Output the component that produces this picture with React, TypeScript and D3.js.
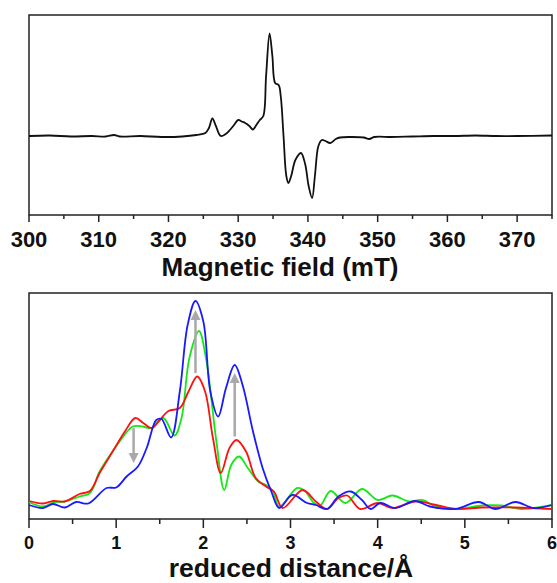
import React from 'react'
import * as d3 from 'd3'

// EPR spectrum: field (mT), intensity (arb. units)
const eprField = [300, 303, 306, 309, 311, 312.2, 313, 316, 319, 322, 324, 325.3, 325.8, 326.3, 326.8, 327.5, 328.2, 328.8, 329.4, 330.0, 330.5, 331.0, 331.6, 332.1, 332.6, 333.1, 333.6, 334.0, 334.5, 334.9, 335.3, 335.8, 336.1, 336.5, 336.9, 337.2, 337.6, 338.2, 339.0, 339.6, 340.1, 340.6, 341.0, 341.5, 342.0, 342.5, 343.2, 344.0, 344.6, 346, 348, 348.8, 349.5, 352, 355, 358, 361, 364, 367, 370, 375]
const eprSignal = [0, 0.5, -0.5, 0, -0.5, 1, -0.5, 0, -1, -0.5, 1, 3, 8, 17.5, 10, 0, 2, 6, 11, 16, 14.5, 13, 10, 6.5, 11, 16, 20, 60, 102.5, 80, 53, 51, 40, 0, -40, -47, -40, -24, -17, -28, -50, -62, -40, -10, -4, -5, -7, -3, -1.5, -1, -1.5, -3, -1, -1, -0.5, 0, 0, 0.5, 0, 0, 0.5]

// radial distribution curves
const blueR = [0, 0.16, 0.275, 0.41, 0.54, 0.68, 0.89, 1.0, 1.12, 1.25, 1.35, 1.46, 1.52, 1.63, 1.73, 1.82, 1.91, 2.0, 2.08, 2.17, 2.26, 2.36, 2.45, 2.57, 2.68, 2.78, 2.87, 3.02, 3.19, 3.29, 3.42, 3.55, 3.69, 3.82, 3.92, 4.03, 4.2, 4.43, 4.6, 4.89, 5.16, 5.35, 5.58, 5.79, 6.0]
const blueV = [14, 11, 15, 11.5, 17, 15.5, 31, 31.5, 42.5, 52.5, 71, 99, 100, 81.5, 127.5, 194, 218, 197.5, 127.5, 102.5, 131, 154, 134, 87.5, 51, 27.5, 11, 24, 16, 14, 10, 22.5, 27.5, 19, 10, 16, 11, 18, 12.5, 10, 17, 10, 17, 11, 14]

const greenR = [0, 0.16, 0.3, 0.41, 0.58, 0.7, 0.81, 0.93, 1.04, 1.19, 1.3, 1.4, 1.54, 1.67, 1.75, 1.84, 1.95, 2.03, 2.15, 2.24, 2.32, 2.41, 2.51, 2.63, 2.72, 2.8, 2.87, 3.08, 3.17, 3.27, 3.34, 3.46, 3.63, 3.82, 4.0, 4.17, 4.36, 4.51, 4.67, 4.9, 5.2, 5.42, 5.65, 6.0]
const greenV = [17, 12.5, 17, 17.5, 22.5, 26, 47.5, 64, 77.5, 92.5, 92.5, 91, 101, 83.5, 101, 161, 188, 161, 77.5, 29, 54, 62.5, 51, 37.5, 34, 27.5, 12.5, 31, 27.5, 16, 13.5, 28, 16, 30, 19, 23.5, 17.5, 19, 12.5, 10, 13.5, 13.5, 10, 14]

const redR = [0, 0.16, 0.28, 0.41, 0.58, 0.7, 0.81, 0.96, 1.1, 1.22, 1.31, 1.41, 1.5, 1.6, 1.73, 1.83, 1.93, 2.02, 2.11, 2.2, 2.3, 2.38, 2.49, 2.6, 2.72, 2.81, 2.91, 3.14, 3.29, 3.42, 3.55, 3.65, 3.8, 4.0, 4.17, 4.43, 4.67, 4.9, 5.2, 5.58, 6.0]
const redV = [18, 15.5, 18, 17.5, 25, 28, 46, 67.5, 87.5, 101, 96, 91, 99, 108, 111, 127.5, 142.5, 127.5, 81, 46, 71, 79, 67.5, 41, 32.5, 27.5, 11, 29, 17.5, 10, 21, 23.5, 10, 16, 11, 17.5, 14, 10, 11.5, 11.5, 10]

// gray arrows: position, start value, tip value
const arrowR = [1.2, 1.91, 2.36]
const arrowFrom = [91, 146, 82.5]
const arrowTo = [56, 209, 146]

const fieldTicks = [300, 310, 320, 330, 340, 350, 360, 370]
const distTicks = [0, 1, 2, 3, 4, 5, 6]

const font = '"Liberation Sans", Arial, sans-serif'

export default function App() {
  const left = 29, right = 552
  // top panel
  const xTop = d3.scaleLinear().domain([300, 375]).range([left, right])
  const yTop = d3.scaleLinear().domain([-79, 121]).range([215, 15])
  const eprLine = d3.line<number>()
    .x((d, i) => xTop(eprField[i]))
    .y(d => yTop(d))
    .curve(d3.curveCatmullRom.alpha(0.5))

  // bottom panel
  const xBot = d3.scaleLinear().domain([0, 6]).range([left, right])
  const yBot = d3.scaleLinear().domain([0, 226]).range([519, 293])
  const mk = (rs: number[]) => d3.line<number>()
    .x((d, i) => xBot(rs[i]))
    .y(d => yBot(d))
    .curve(d3.curveCatmullRom.alpha(0.5))

  const series = [
    { r: greenR, v: greenV, color: '#17e617' },
    { r: redR, v: redV, color: '#ff1010' },
    { r: blueR, v: blueV, color: '#1a1aff' },
  ]

  const minorTop = d3.range(300, 376, 5)
  const minorBot = d3.range(0, 6.01, 0.5)

  return (
    <svg width={557} height={583} style={{ position: 'absolute', left: 0, top: 0, background: '#fff' }}>
      {/* top panel */}
      <rect x={left} y={15} width={right - left} height={200} fill="none" stroke="#222" strokeWidth={1.5} />
      {minorTop.map(t => (
        <line key={t} x1={xTop(t)} x2={xTop(t)} y1={215} y2={t % 10 === 0 ? 222 : 219} stroke="#222" strokeWidth={1.5} />
      ))}
      {fieldTicks.map(t => (
        <text key={t} x={xTop(t)} y={247} textAnchor="middle" fontFamily={font} fontWeight="bold" fontSize={22} fill="#111">{t}</text>
      ))}
      <text x={280} y={276} textAnchor="middle" fontFamily={font} fontWeight="bold" fontSize={26} fill="#111">Magnetic field (mT)</text>
      <path d={eprLine(eprSignal) ?? ''} fill="none" stroke="#111" strokeWidth={1.8} strokeLinejoin="round" />

      {/* bottom panel */}
      <rect x={left} y={293} width={right - left} height={226} fill="none" stroke="#222" strokeWidth={1.5} />
      {minorBot.map(t => (
        <line key={t} x1={xBot(t)} x2={xBot(t)} y1={519} y2={Math.abs(t % 1) < 0.01 ? 528 : 524} stroke="#222" strokeWidth={1.5} />
      ))}
      {distTicks.map(t => (
        <text key={t} x={xBot(t)} y={549} textAnchor="middle" fontFamily={font} fontWeight="bold" fontSize={18} fill="#111">{t}</text>
      ))}
      <text x={291} y={577} textAnchor="middle" fontFamily={font} fontWeight="bold" fontSize={26.5} fill="#111">reduced distance/Å</text>
      {series.map(s => (
        <path key={s.color} d={mk(s.r)(s.v) ?? ''} fill="none" stroke={s.color} strokeWidth={1.8} strokeLinejoin="round" />
      ))}
      {arrowR.map((r, i) => {
        const x = xBot(r)
        const y0 = yBot(arrowFrom[i])
        const y1 = yBot(arrowTo[i])
        const dir = y1 > y0 ? 1 : -1
        const hb = y1 - dir * 10
        return (
          <g key={r}>
            <line x1={x} x2={x} y1={y0} y2={hb} stroke="#a9a9a9" strokeWidth={2.5} />
            <path d={`M${x - 5},${hb} L${x + 5},${hb} L${x},${y1} Z`} fill="#a9a9a9" />
          </g>
        )
      })}
    </svg>
  )
}
